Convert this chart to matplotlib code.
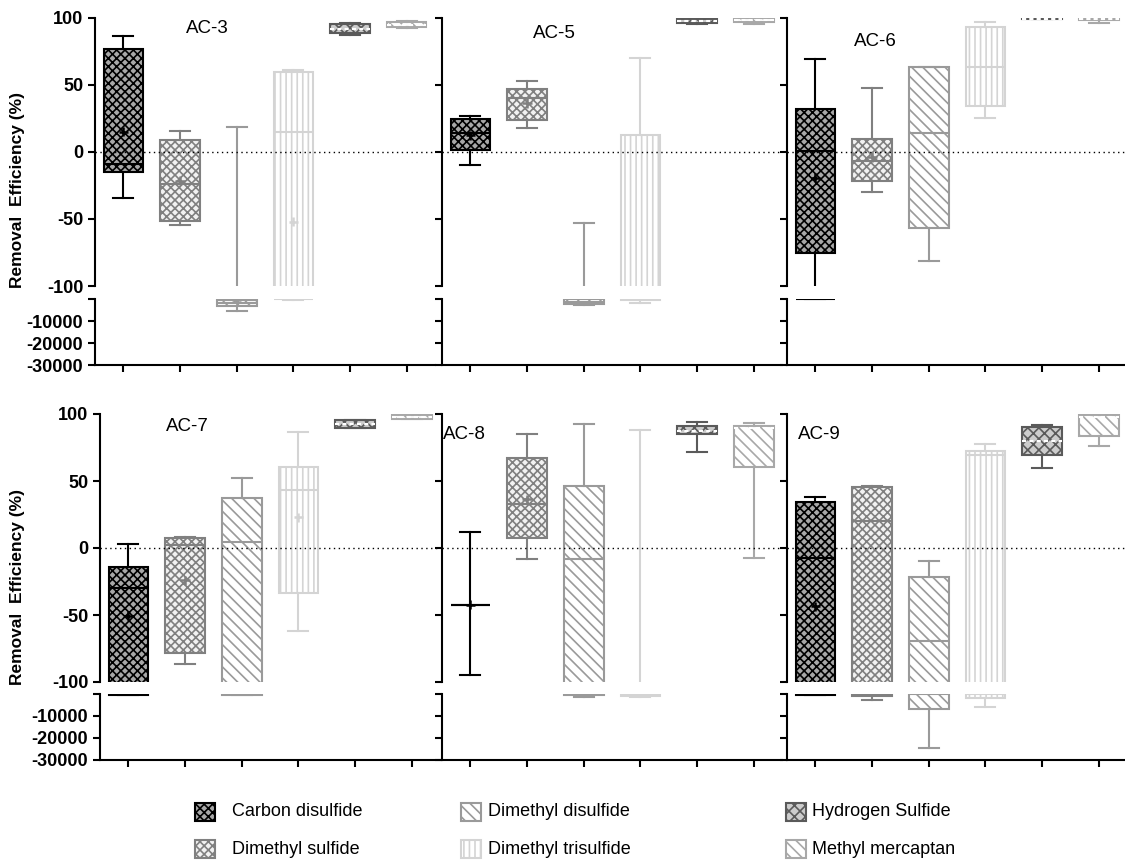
import numpy as np
import matplotlib.pyplot as plt
from matplotlib.patches import Rectangle

plt.rcParams['font.family'] = ['Liberation Sans', 'DejaVu Sans']
plt.rcParams['hatch.linewidth'] = 1.2
plt.rcParams['axes.unicode_minus'] = False

## DATA ##
compounds = ['Carbon disulfide', 'Dimethyl sulfide', 'Dimethyl disulfide',
             'Dimethyl trisulfide', 'Hydrogen Sulfide', 'Methyl mercaptan']
panels = ['AC-3', 'AC-5', 'AC-6', 'AC-7', 'AC-8', 'AC-9']

# one row per panel, one column per compound (order as above), removal efficiency %
whis_hi = [[86.2, 15.5, 18.4, 61.0, 96.0, 97.5],
           [26.9, 52.5, -53.2, 69.9, 99.5, 99.8],
           [69.0, 47.5, 62.9, 96.7, 99.6, 99.5],
           [2.7, 8.5, 52.4, 86.5, 95.8, 99.5],
           [11.6, 85.0, 92.4, 88.1, 93.9, 93.2],
           [38.0, 46.6, -9.4, 77.5, 91.9, 99.5]]
q3 = [[76.5, 8.5, -450, 59.4, 95.0, 96.6],
      [24.4, 47.0, -150, 12.5, 99.0, 99.5],
      [32.2, 9.6, 62.9, 92.8, 99.6, 99.5],
      [-14.5, 7.7, 37.2, 60.6, 95.8, 99.5],
      [-42.3, 67.3, 46.3, -120, 91.1, 91.1],
      [34.2, 45.8, -22.0, 72.2, 90.6, 99.5]]
med = [[-9.0, -24.0, -1800, 15.0, 91.7, 94.5],
       [13.7, 40.0, -1200, -200, 97.5, 98.0],
       [0.2, -6.6, 13.7, 63.2, 99.2, 99.0],
       [-29.7, 2.0, 4.2, 43.1, 92.8, 98.0],
       [-42.3, 33.2, -8.1, -400, 87.3, 89.4],
       [-7.6, 20.3, -69.4, 69.1, 80.0, 97.7]]
q1 = [[-15.3, -51.6, -3200, -120, 88.2, 92.7],
      [1.0, 23.6, -2400, -400, 96.0, 96.3],
      [-75.1, -21.8, -56.8, 34.0, 98.8, 98.5],
      [-300, -78.3, -300, -33.4, 89.5, 96.3],
      [-42.3, 7.1, -450, -700, 85.1, 60.3],
      [-300, -900, -6800, -1950, 69.1, 83.5]]
whis_lo = [[-34.7, -54.8, -5450, -300, 87.0, 92.3],
           [-9.5, 17.4, -2700, -1600, 95.5, 95.3],
           [-150, -30.2, -81.7, 25.0, 98.8, 96.0],
           [-300, -86.8, -300, -61.8, 89.5, 96.3],
           [-95.0, -8.1, -1400, -1500, 71.6, -7.1],
           [-300, -2700, -24700, -5700, 59.7, 76.0]]
nan = np.nan
means = [[15.0, -21.5, -1200, -52.0, nan, nan],
         [12.2, 36.3, nan, nan, nan, nan],
         [-19.3, -4.0, nan, nan, nan, nan],
         [-50.6, -24.0, nan, 22.9, nan, nan],
         [-42.3, 36.2, nan, nan, nan, nan],
         [-43.5, nan, nan, nan, nan, nan]]

# styles
edge_colors = ['#000000', '#808080', '#9a9a9a', '#d4d4d4', '#5a5a5a', '#a8a8a8']
face_colors = ['#a8a8a8', '#f2f2f2', 'white', 'white', '#cccccc', 'white']
hatches = ['xxxx', 'xxxx', '\\\\\\', '|||', 'xxx', '\\\\\\']

W, H = 1125, 864
fig = plt.figure(figsize=(W / 100, H / 100), dpi=100)


def px_axes(x0, y0, x1, y1, **kw):
    """add axes from pixel box (origin top left)"""
    return fig.add_axes([x0 / W, 1 - y1 / H, (x1 - x0) / W, (y1 - y0) / H], **kw)


# legend / label layer
lax = px_axes(0, 0, W, H)
lax.set_xlim(0, W)
lax.set_ylim(H, 0)
lax.set_axis_off()

col_x = [[95, 442, 787], [100, 442, 787]]
row_y = [(17.5, 286, 299, 365), (414, 682, 694, 760)]
title_pos = [(1.48, 92), (1.48, 88), (1.06, 82), (1.04, 91), (-0.1, 85), (0.07, 85)]

for p, name in enumerate(panels):
    r, c = divmod(p, 3)
    x0 = col_x[r][c]
    ya, yb, yc, yd = row_y[r]
    top = px_axes(x0, ya, x0 + 340, yb)
    bot = px_axes(x0, yc, x0 + 340, yd)

    for ax, lower in ((top, False), (bot, True)):
        ax.set_facecolor('none')
        for k in range(6):
            # lower (broken) part only holds what falls under -100
            if lower and whis_lo[p][k] >= -100:
                continue
            st = dict(whislo=whis_lo[p][k], q1=q1[p][k], med=med[p][k],
                      q3=q3[p][k], whishi=whis_hi[p][k], fliers=[])
            ec = edge_colors[k]
            if k >= 4:
                mprops = dict(color='white', linewidth=1.5, linestyle=(0, (2, 1.5)))
            else:
                mprops = dict(color=ec, linewidth=1.5)
            if lower and med[p][k] >= -100:
                mprops = dict(visible=False)
            arts = ax.bxp([st], positions=[k], widths=0.7, capwidths=0.35,
                          patch_artist=True, showfliers=False, manage_ticks=False,
                          boxprops=dict(facecolor=face_colors[k], edgecolor=ec,
                                        hatch=hatches[k], linewidth=1.5),
                          whiskerprops=dict(color=ec, linewidth=1.5),
                          capprops=dict(color=ec, linewidth=1.5),
                          medianprops=mprops)
            if lower:
                # top cap sits above the break
                arts['caps'][1].set_visible(False)
        m = np.array(means[p], dtype=float)
        if lower:
            m = np.where(m < -100, m, np.nan)
        ax.scatter(range(6), m, marker='+', s=45, c=edge_colors,
                   linewidths=1.8, zorder=4)
        ax.set_xlim(-0.5, 5.5)
        ax.spines[['top', 'right']].set_visible(False)
        ax.spines['left'].set_linewidth(1.5)
        ax.tick_params(direction='out', length=5, width=1.5)

    # upper part
    top.set_ylim(-100, 100)
    top.spines['bottom'].set_visible(False)
    top.set_xticks([])
    top.set_yticks([-100, -50, 0, 50, 100])
    if c == 0:
        top.set_yticklabels(['-100', '-50', '0', '50', '100'],
                            fontweight='bold', fontsize=13)
    else:
        top.set_yticklabels([])
    top.axhline(0, color='black', linewidth=1, linestyle=(0, (1, 2.5)), zorder=5)
    top.text(title_pos[p][0], title_pos[p][1], name, ha='center', va='center',
             fontsize=13.5)

    # lower part
    bot.set_ylim(-30000, 0)
    bot.spines['bottom'].set_linewidth(1.5)
    bot.set_xticks(range(6))
    bot.set_xticklabels([])
    bot.set_yticks([-30000, -20000, -10000, 0])
    if c == 0:
        bot.set_yticklabels(['-30000', '-20000', '-10000', ''],
                            fontweight='bold', fontsize=13)
    else:
        bot.set_yticklabels([])

# y labels
for yc in (190, 587):
    lax.text(18, yc, 'Removal  Efficiency (%)', rotation=90, ha='center',
             va='center', fontweight='bold', fontsize=12.5)

# legend
leg_patch_x = [195, 461, 786]
leg_text_x = [232, 488, 812]
leg_y = [812, 849]
for k, lab in enumerate(compounds):
    cx, ry = divmod(k, 2)
    lax.add_patch(Rectangle((leg_patch_x[cx], leg_y[ry] - 9), 20, 18,
                            facecolor=face_colors[k], edgecolor=edge_colors[k],
                            hatch=hatches[k], linewidth=1.5))
    lax.text(leg_text_x[cx], leg_y[ry], lab, ha='left', va='center', fontsize=13)

fig.savefig('out.png', dpi=100)
